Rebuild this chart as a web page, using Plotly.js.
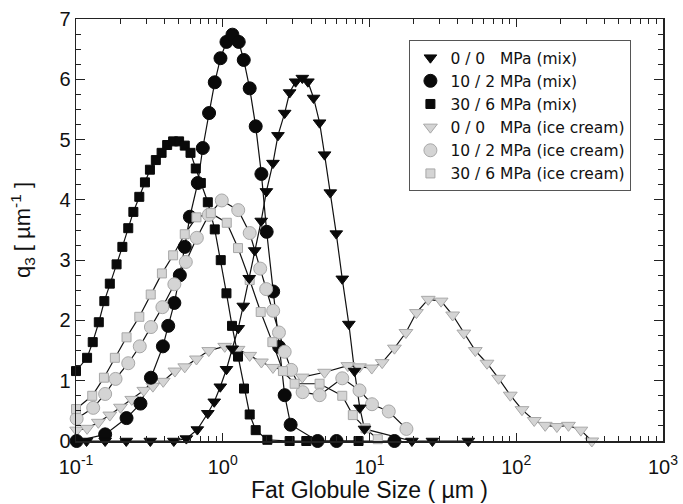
<!DOCTYPE html>
<html><head><meta charset="utf-8">
<script src="https://cdn.plot.ly/plotly-3.0.1.min.js"></script>
<style>html,body{margin:0;padding:0;background:#fff}</style>
</head><body><div id="chart" style="width:683px;height:504px"></div>
<script>
// ---- data (x: fat globule size in µm, y: q3 in µm^-1) ----
const mix00_x = [0.118,0.158,0.220,0.321,0.464,0.565,0.671,0.791,0.875,0.962,1.060,1.161,1.275,1.379,1.515,1.651,1.828,1.983,2.199,2.378,2.642,2.856,3.137,3.485,3.804,4.159,4.570,4.942,5.404,5.936,6.522,7.232,7.907,8.590,9.247,19.45,26.83,47.16];
const mix00_y = [0,0,0,0,0,0.04,0.19,0.46,0.65,0.90,1.19,1.53,1.87,2.24,2.70,3.16,3.65,4.14,4.61,5.07,5.44,5.78,5.96,6.02,5.96,5.69,5.28,4.75,4.12,3.44,2.69,1.94,1.16,0.55,0.20,0,0,0];

const mix102_x = [0.101,0.158,0.221,0.275,0.324,0.391,0.425,0.468,0.510,0.551,0.597,0.676,0.731,0.807,0.882,0.965,1.060,1.164,1.285,1.390,1.526,1.677,1.834,1.992,2.206,2.424,2.642,2.901,4.43,5.963,14.79];
const mix102_y = [0,0.11,0.38,0.62,1.05,1.57,1.91,2.29,2.75,3.22,3.72,4.28,4.86,5.44,5.95,6.35,6.62,6.74,6.62,6.32,5.85,5.22,4.43,3.47,2.48,1.56,0.76,0.27,0,0,0];

const mix306_x = [0.100,0.119,0.130,0.143,0.156,0.170,0.189,0.207,0.227,0.246,0.270,0.295,0.319,0.350,0.383,0.418,0.459,0.504,0.551,0.603,0.655,0.709,0.791,0.882,0.969,1.060,1.157,1.271,1.396,1.526,1.677,2.014,2.856,3.710,8.42];
const mix306_y = [1.16,1.38,1.64,1.97,2.32,2.61,2.93,3.22,3.53,3.80,4.05,4.29,4.50,4.66,4.78,4.91,4.97,4.97,4.90,4.78,4.52,4.28,3.96,3.51,3.00,2.45,1.91,1.40,0.87,0.44,0.18,0.02,0,0,0];

const ice00_x = [0.101,0.119,0.142,0.170,0.201,0.240,0.290,0.334,0.393,0.472,0.551,0.662,0.803,1.032,1.271,1.526,1.834,2.199,2.713,3.485,4.942,7.119,8.551,10.36,12.20,14.79,17.71,20.88,25.12,30.75,36.87,43.95,52.60,63.18,75.80,91.05,109.4,132.6,157.5,189.2,226.9,275.5,327.3];
const ice00_y = [0.18,0.21,0.31,0.43,0.56,0.69,0.84,0.91,0.99,1.16,1.23,1.36,1.50,1.57,1.52,1.42,1.31,1.22,1.17,1.06,1.14,1.25,1.23,1.21,1.30,1.54,1.80,2.13,2.35,2.32,2.09,1.79,1.50,1.29,1.04,0.76,0.52,0.34,0.26,0.24,0.26,0.18,0.00];

const ice102_x = [0.101,0.131,0.158,0.186,0.227,0.272,0.324,0.388,0.468,0.560,0.666,0.803,0.985,1.275,1.526,1.799,1.977,2.206,2.415,2.642,2.924,3.502,4.570,6.522,8.551,10.40,13.53,17.85];
const ice102_y = [0.37,0.55,0.78,1.03,1.29,1.57,1.89,2.22,2.60,2.97,3.37,3.75,3.99,3.83,3.45,2.86,2.52,2.16,1.80,1.48,1.18,0.81,0.76,1.04,0.84,0.61,0.49,0.20];

const ice306_x = [0.100,0.129,0.155,0.184,0.221,0.270,0.323,0.385,0.459,0.551,0.662,0.829,1.065,1.271,1.526,1.814,2.178,2.571,3.089,4.570,6.522,7.699,9.393,11.39];
const ice306_y = [0.53,0.75,1.05,1.38,1.72,2.06,2.43,2.78,3.08,3.43,3.71,3.78,3.62,3.20,2.67,2.14,1.64,1.16,0.95,0.95,0.75,0.43,0.21,0.03];

const seriesNames = ['0 / 0\u00a0\u00a0\u00a0MPa (mix)','10 / 2 MPa (mix)','30 / 6 MPa (mix)','0 / 0\u00a0\u00a0\u00a0MPa (ice cream)','10 / 2 MPa (ice cream)','30 / 6 MPa (ice cream)'];

const xTickVals = [0.1,1,10,100,1000];
const xTickText = ['10<sup>-1</sup>','10<sup>0</sup>','10<sup>1</sup>','10<sup>2</sup>','10<sup>3</sup>'];
const xMinorVals = [0.2,0.3,0.4,0.5,0.6,0.7,0.8,0.9,2,3,4,5,6,7,8,9,20,30,40,50,60,70,80,90,200,300,400,500,600,700,800,900];

// ---- styles ----
const BLACK = '#0a0a0a';
const GREY_FILL = '#d4d4d4';
const GREY_LINE = '#a8a8a8';

const series = [
  {x: ice00_x,  y: ice00_y,  name: seriesNames[3], rank: 4, sym: 'triangle-down', size: 12, fill: GREY_FILL, ol: GREY_LINE},
  {x: mix102_x, y: mix102_y, name: seriesNames[1], rank: 2, sym: 'circle',        size: 13, fill: BLACK,     ol: BLACK},
  {x: ice102_x, y: ice102_y, name: seriesNames[4], rank: 5, sym: 'circle',        size: 13, fill: GREY_FILL, ol: GREY_LINE},
  {x: ice306_x, y: ice306_y, name: seriesNames[5], rank: 6, sym: 'square',        size: 9,  fill: GREY_FILL, ol: GREY_LINE},
  {x: mix306_x, y: mix306_y, name: seriesNames[2], rank: 3, sym: 'square',        size: 9,  fill: BLACK,     ol: BLACK},
  {x: mix00_x,  y: mix00_y,  name: seriesNames[0], rank: 1, sym: 'triangle-down', size: 11, fill: BLACK,     ol: BLACK}
];

const traces = [];
series.forEach(s => {
  traces.push({x: s.x, y: s.y, type: 'scatter', mode: 'lines', showlegend: false, hoverinfo: 'skip',
    line: {color: '#111', width: 1.2}, cliponaxis: false});
});
series.forEach(s => {
  traces.push({x: s.x, y: s.y, type: 'scatter', mode: 'markers', name: s.name, legendrank: s.rank,
    marker: {symbol: s.sym, size: s.size, color: s.fill, line: {color: s.ol, width: 1}}, cliponaxis: false});
});

const axisCommon = {
  showline: true, linecolor: '#222', linewidth: 1.5, mirror: 'allticks',
  ticks: 'inside', tickcolor: '#222', tickwidth: 1.2,
  showgrid: false, zeroline: false, automargin: false
};

const layout = {
  width: 683, height: 504,
  margin: {l: 76, r: 20, t: 19, b: 63, pad: 0},
  paper_bgcolor: '#fff', plot_bgcolor: '#fff',
  font: {family: 'Liberation Sans, Arial, sans-serif', color: '#111', size: 18},
  showlegend: true,
  legend: {x: 0.568, y: 0.950, xanchor: 'left', yanchor: 'top', bordercolor: '#555', borderwidth: 1,
    bgcolor: '#fff', font: {family: 'DejaVu Sans, Liberation Sans, sans-serif', size: 15.5, color: '#111'}, itemwidth: 30},
  xaxis: Object.assign({}, axisCommon, {
    type: 'log', range: [-1, 3], tickmode: 'array', tickvals: xTickVals, ticktext: xTickText,
    ticklen: 8, tickfont: {size: 20}, ticklabelstandoff: 7,
    minor: {tickmode: 'array', tickvals: xMinorVals, ticks: 'inside', ticklen: 5, tickwidth: 1, tickcolor: '#222', showgrid: false},
    title: {text: 'Fat Globule Size ( µm )', font: {size: 23}, standoff: 4}
  }),
  yaxis: Object.assign({}, axisCommon, {
    range: [0, 7], tick0: 0, dtick: 1, ticklen: 9, tickfont: {size: 20},
    minor: {dtick: 0.25, ticks: 'inside', ticklen: 5, tickwidth: 1, tickcolor: '#222', showgrid: false},
    title: {text: 'q<sub>3</sub> [ µm<sup>-1</sup> ]', font: {size: 22}, standoff: 22}
  })
};

Plotly.newPlot('chart', traces, layout, {displayModeBar: false, staticPlot: true});
</script></body></html>
